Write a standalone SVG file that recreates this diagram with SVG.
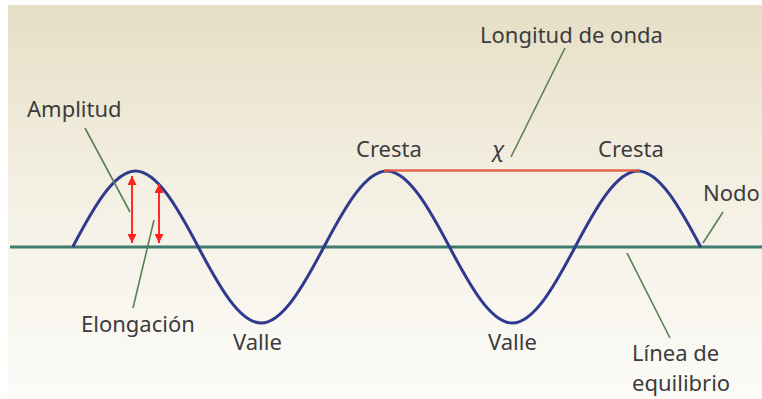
<svg xmlns="http://www.w3.org/2000/svg" width="762" height="399" viewBox="0 0 762 399">
  <defs>
    <linearGradient id="bg" x1="0" y1="0" x2="0" y2="1">
      <stop offset="0" stop-color="#e6dec5"/>
      <stop offset="0.45" stop-color="#f3efe2"/>
      <stop offset="1" stop-color="#fcfbf8"/>
    </linearGradient>
    <marker id="ah" viewBox="0 0 10 10" refX="10" refY="5" markerWidth="9" markerHeight="9" markerUnits="userSpaceOnUse" orient="auto-start-reverse">
      <path d="M0,0 L10,5 L0,10 z" fill="#ff1f1f"/>
    </marker>
  </defs>
  <style>
    .lbl { font-family: "Noto Sans", "Open Sans", "DejaVu Sans", sans-serif; font-size: 22px; fill: #3c3c3c; }
    .lead { stroke: #5b8052; stroke-width: 1.6; fill: none; }
    .wave { stroke: #2f3a8f; stroke-width: 3; fill: none; }
    .arr { stroke: #ff2a2a; stroke-width: 2; }
  </style>
  <rect x="0" y="0" width="762" height="399" fill="#ffffff"/>
  <rect x="8" y="5" width="754" height="394" fill="url(#bg)"/>

  <g id="equilibrium-line">
    <line x1="10" y1="247" x2="762" y2="247" stroke="#3f7b6e" stroke-width="3"/>
  </g>

  <g id="wave">
    <path class="wave" d="M72.7,247 C93.2,208.1 114.1,171 135.5,171 C156.9,171 177.8,208.1 198.3,247 C218.8,285.9 239.7,323 261.1,323 C282.5,323 303.4,285.9 323.9,247 C344.4,208.1 365.3,171 386.7,171 C408.1,171 429,208.1 449.5,247 C470,285.9 490.9,323 512.3,323 C533.7,323 554.6,285.9 575.1,247 C595.6,208.1 616.5,171 637.9,171 C659.3,171 680.2,208.1 700.7,247"/>
  </g>

  <g id="wavelength-bar">
    <line x1="384" y1="170.5" x2="640" y2="170.5" stroke="#e4573f" stroke-width="2.5" opacity="0.9"/>
  </g>

  <g id="arrows">
    <line class="arr" x1="132" y1="176" x2="132" y2="243" marker-start="url(#ah)" marker-end="url(#ah)"/>
    <line class="arr" x1="159" y1="184" x2="159" y2="243" marker-start="url(#ah)" marker-end="url(#ah)"/>
  </g>

  <g id="connectors">
    <line class="lead" x1="85" y1="128" x2="130" y2="212"/>
    <line class="lead" x1="154" y1="220" x2="133" y2="308"/>
    <line class="lead" x1="565" y1="48" x2="511" y2="157"/>
    <line class="lead" x1="723" y1="212" x2="703" y2="243"/>
    <line class="lead" x1="627" y1="253" x2="670" y2="338"/>
  </g>

  <g id="label-longitud"><text class="lbl" x="480" y="43">Longitud de onda</text></g>
  <g id="label-amplitud"><text class="lbl" x="27" y="117">Amplitud</text></g>
  <g id="label-cresta1"><text class="lbl" x="356" y="157">Cresta</text></g>
  <g id="label-chi"><text class="lbl" x="492" y="157" font-style="italic">χ</text></g>
  <g id="label-cresta2"><text class="lbl" x="598" y="157">Cresta</text></g>
  <g id="label-nodo"><text class="lbl" x="703" y="201">Nodo</text></g>
  <g id="label-elongacion"><text class="lbl" x="81" y="332">Elongación</text></g>
  <g id="label-valle1"><text class="lbl" x="233" y="350">Valle</text></g>
  <g id="label-valle2"><text class="lbl" x="488" y="350">Valle</text></g>
  <g id="label-linea">
    <text class="lbl" x="632" y="361">Línea de</text>
    <text class="lbl" x="632" y="391">equilibrio</text>
  </g>
</svg>
